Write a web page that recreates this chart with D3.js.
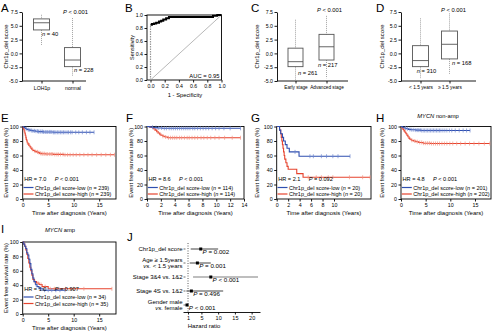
<!DOCTYPE html>
<html><head><meta charset="utf-8">
<script src="https://cdn.jsdelivr.net/npm/d3@7"></script>
<style>body{margin:0;background:#fff}</style>
</head><body>
<svg id="chart" width="500" height="332"></svg>
<script>
// ---------------- DATA ----------------
// Box plots (whisker low, Q1, median, Q3, whisker high)
const boxYTicks = [-5, -2.5, 0, 2.5, 5, 7.5];
const catsA = ["LOH1p", "normal"];
const statsA = [[1.5, 4.25, 5.55, 6.25, 7.0], [-4.1, -2.4, -1.2, 1.05, 6.4]];
const nA = [40, 228];
const catsC = ["Early stage", "Advanced stage"];
const statsC = [[-4.8, -2.4, -1.5, 0.95, 6.1], [-4.5, -1.2, 1.2, 3.45, 6.8]];
const nC = [261, 217];
const catsD = ["< 1.5 years", "\u2265 1.5 years"];
const statsD = [[-4.6, -2.4, -1.3, 1.4, 6.35], [-3.7, -1.0, 1.65, 4.05, 7.25]];
const nD = [310, 168];

// ROC
const rocFpr = [0, 0, 0, 0.02, 0.02, 0.05, 0.05, 0.08, 0.08, 0.12, 0.12, 0.15, 0.15, 0.18, 0.18, 0.22, 0.22, 0.26, 0.26, 0.88, 0.88, 0.94, 0.94, 1];
const rocTpr = [0, 0.82, 0.85, 0.85, 0.86, 0.86, 0.87, 0.87, 0.88, 0.88, 0.9, 0.9, 0.91, 0.91, 0.93, 0.93, 0.95, 0.95, 0.97, 0.97, 0.99, 0.99, 1, 1];
const rocTicks = [0, 0.2, 0.4, 0.6, 0.8, 1.0];
const aucLabel = "AUC = 0.95";

// Kaplan-Meier: events [time, survival%], end time, censor times
const kmYTicks = [0, 20, 40, 60, 80, 100];
const kmE_low = [[0.2, 99], [0.4, 98], [0.6, 97], [0.8, 96], [1.0, 95.5], [1.3, 95], [1.6, 94.5], [2.0, 94], [2.5, 93.5], [3.0, 93], [4.0, 92.5], [6.0, 92]];
const kmE_lowEnd = 14;
const kmE_lowCens = [0.7, 1.1, 1.4, 1.7, 2.0, 2.3, 2.6, 2.9, 3.1, 3.4, 3.6, 3.9, 4.1, 4.4, 4.6, 4.9, 5.2, 5.4, 5.7, 6.0, 6.2, 6.5, 6.8, 7.1, 7.4, 7.7, 8.0, 8.3, 8.7, 9.0, 9.4, 9.7, 10.4, 11.0, 11.7, 12.5, 13.2, 14.0];
const kmE_high = [[0.1, 98], [0.2, 96], [0.3, 94], [0.4, 91], [0.5, 88], [0.6, 85], [0.7, 82], [0.8, 80], [0.9, 78], [1.0, 76], [1.2, 74], [1.4, 72], [1.6, 70], [1.8, 68.5], [2.0, 67], [2.3, 66], [2.6, 65], [3.0, 64], [3.3, 63], [3.7, 62.5], [4.5, 62], [6.0, 61.5], [8.0, 61]];
const kmE_highEnd = 18;
const kmE_highCens = [0.3, 0.6, 0.9, 1.3, 1.9, 2.4, 2.9, 3.2, 3.5, 3.8, 4.0, 4.3, 4.6, 4.9, 5.3, 5.6, 5.9, 6.3, 6.7, 7.0, 7.4, 7.9, 8.3, 8.8, 9.3, 9.9, 10.5, 11.2, 12.0, 12.8, 13.6, 14.5, 15.4, 16.3, 17.2, 18.0];
const kmE_ticks = [0, 5, 10, 15];

const kmF_low = [[0.3, 99.5], [0.6, 99], [1.0, 98.5], [1.5, 98], [2.2, 97.5]];
const kmF_lowEnd = 13.5;
const kmF_lowCens = [0.8, 1.3, 1.7, 2.1, 2.5, 2.8, 3.2, 3.5, 3.8, 4.1, 4.4, 4.7, 5.0, 5.3, 5.6, 5.9, 6.2, 6.6, 6.9, 7.3, 7.7, 8.1, 8.5, 8.9, 9.4, 9.9, 10.4, 11.1, 12.0, 13.5];
const kmF_high = [[0.4, 99], [0.8, 98], [1.0, 96.5], [1.2, 95], [1.4, 93], [1.6, 91], [1.8, 89.5], [2.0, 88], [2.3, 86.5], [2.6, 85.5], [3.0, 84.5]];
const kmF_highEnd = 13.5;
const kmF_highCens = [1.1, 1.5, 1.9, 2.3, 2.7, 3.1, 3.4, 3.7, 4.0, 4.3, 4.7, 5.0, 5.4, 5.8, 6.1, 6.5, 6.9, 7.3, 7.8, 8.2, 8.7, 9.2, 9.8, 10.4, 11.2, 12.3, 13.5];
const kmF_ticks = [0, 2, 4, 6, 8, 10, 12, 14];

const kmG_low = [[0.5, 95], [0.7, 90], [1.0, 85], [1.2, 80], [1.5, 75], [1.8, 70], [2.2, 65], [3.9, 59]];
const kmG_lowEnd = 12.8;
const kmG_lowCens = [3.2, 5.8, 6.4, 7.8, 8.7, 9.8, 10.7, 12.8];
const kmG_high = [[0.5, 95], [0.7, 90], [0.8, 85], [0.9, 80], [1.0, 75], [1.1, 70], [1.2, 65], [1.3, 60], [1.4, 55], [1.6, 50], [1.8, 45], [2.0, 41], [3.5, 35], [4.6, 30]];
const kmG_highEnd = 16.3;
const kmG_highCens = [5.5, 6.9, 7.8, 9.0, 9.8, 12.7, 15.0, 16.3];
const kmG_ticks = [0, 2, 4, 6, 8, 10];

const kmH_low = [[0.3, 99], [0.6, 98], [1.0, 97], [1.5, 96], [2.0, 95.5], [3.0, 95], [4.0, 94.5]];
const kmH_lowEnd = 14;
const kmH_lowCens = [0.9, 1.3, 1.8, 2.2, 2.6, 3.0, 3.3, 3.6, 3.9, 4.2, 4.5, 4.8, 5.1, 5.4, 5.7, 6.0, 6.3, 6.6, 6.9, 7.2, 7.5, 7.8, 8.1, 8.5, 8.9, 9.3, 9.8, 10.3, 11.0, 11.8, 12.6, 13.3, 14.0];
const kmH_high = [[0.2, 98], [0.4, 96], [0.6, 94], [0.8, 92], [1.0, 90], [1.2, 88], [1.4, 86], [1.6, 84], [1.8, 82.5], [2.1, 81], [2.5, 80], [3.0, 79], [3.6, 78], [4.5, 77], [6.0, 76.5]];
const kmH_highEnd = 18;
const kmH_highCens = [1.5, 2.2, 2.8, 3.3, 3.8, 4.2, 4.6, 5.0, 5.4, 5.8, 6.2, 6.6, 7.0, 7.4, 7.8, 8.3, 8.8, 9.3, 9.9, 10.5, 11.3, 12.1, 13.0, 13.9, 14.8, 15.8, 16.9, 18.0];

const kmI_low = [[0.2, 97], [0.4, 94], [0.6, 91], [0.8, 85], [1.0, 82], [1.2, 76], [1.4, 70], [1.6, 62], [1.8, 56], [2.0, 50], [2.2, 45], [2.5, 41], [2.8, 38], [3.2, 35], [4.0, 33]];
const kmI_lowEnd = 8.3;
const kmI_lowCens = [2.6, 3.6, 4.3, 5.0, 5.7, 6.5, 7.3, 8.3];
const kmI_high = [[0.2, 97], [0.4, 94], [0.6, 89], [0.8, 83], [1.0, 77], [1.2, 71], [1.4, 65], [1.6, 60], [1.8, 54], [2.0, 48], [2.3, 45], [2.7, 43], [3.2, 41], [3.8, 38], [5.0, 35]];
const kmI_highEnd = 17.5;
const kmI_highCens = [1.5, 2.4, 3.0, 3.6, 4.4, 5.4, 6.2, 7.1, 8.4, 10.0, 12.0, 17.5];

// Forest plot (J)
const forestLabels = [["Chr1p_del score"], ["Age \u2265 1.5years", "vs. < 1.5 years"], ["Stage 3&4 vs. 1&2"], ["Stage 4S vs. 1&2"], ["Gender male", "vs. female"]];
const forestHR = [4.8, 3.8, 7.8, 2.0, 0.7];
const forestLo = [1.8, 1.5, 2.5, 0.5, 0.3];
const forestHi = [10.0, 7.8, 21.9, 11.5, 1.1];
const forestP = ["= 0.002", "= 0.001", "< 0.001", "= 0.496", "< 0.001"];
const forestTicks = [1, 5, 10, 15, 20];

// ---------------- DRAWING ----------------
const FONT = '"Liberation Sans", Arial, Helvetica, sans-serif';
const svg = d3.select("#chart").attr("font-family", FONT);
const BLUE = "#2f4fb0", BLUE_C = "#6f86d0", RED = "#e6432e", RED_C = "#f3907f";

function rich(g, x, y, parts, size, anchor) {
  const t = g.append("text").attr("x", x).attr("y", y).attr("font-size", size)
    .attr("text-anchor", anchor || "start").attr("fill", "#000");
  parts.forEach(p => t.append("tspan").attr("font-style", p[1] ? "italic" : "normal").text(p[0]));
  return t;
}
function styleAxis(a, size) {
  a.attr("font-family", FONT).attr("font-size", size);
  a.selectAll("text").attr("fill", "#000");
  a.selectAll("line,path").attr("stroke", "#000").attr("stroke-width", 0.9);
}
function letter(t, x, y) {
  svg.append("text").attr("x", x).attr("y", y).attr("font-size", 11.5).text(t);
}
function vtitle(g, x, cy, s, size) {
  g.append("text").attr("transform", `translate(${x},${cy}) rotate(-90)`)
    .attr("text-anchor", "middle").attr("dy", "0.35em").attr("font-size", size).text(s);
}

// ---- Box panels ----
function boxPanel(L, cats, stats, ns) {
  const g = svg.append("g");
  const y = d3.scaleLinear().domain([-5, 7.5]).range([L.yB, L.yT]);
  const x = d3.scalePoint().domain(cats).range(L.xr).padding(0.5);
  const ya = g.append("g").attr("transform", `translate(${L.ax},0)`)
    .call(d3.axisLeft(y).tickValues(boxYTicks).tickFormat(d => d.toFixed(1)).tickSize(2.5).tickSizeOuter(0).tickPadding(1.5));
  styleAxis(ya, 5.2);
  const xa = g.append("g").attr("transform", `translate(0,${L.yB})`)
    .call(d3.axisBottom(x).tickSize(2.5).tickSizeOuter(0).tickPadding(2.5));
  xa.select(".domain").remove();
  styleAxis(xa, L.catSize);
  g.append("line").attr("x1", L.ax).attr("x2", L.axEnd).attr("y1", L.yB).attr("y2", L.yB)
    .attr("stroke", "#000").attr("stroke-width", 0.9);
  stats.forEach((s, i) => {
    const cx = x(cats[i]), w = L.bw;
    const [lo, q1, med, q3, hi] = s;
    [[hi, q3], [q1, lo]].forEach(seg => g.append("line").attr("x1", cx).attr("x2", cx)
      .attr("y1", y(seg[0])).attr("y2", y(seg[1])).attr("stroke", "#999").attr("stroke-width", 0.9)
      .attr("stroke-dasharray", "1,1"));
    g.append("rect").attr("x", cx - w / 2).attr("y", y(q3)).attr("width", w).attr("height", y(q1) - y(q3))
      .attr("fill", "none").attr("stroke", "#555").attr("stroke-width", 0.9);
    g.append("line").attr("x1", cx - w / 2).attr("x2", cx + w / 2).attr("y1", y(med)).attr("y2", y(med))
      .attr("stroke", "#555").attr("stroke-width", 0.9);
    rich(g, cx + L.nOff[i][0], y(q1) + L.nOff[i][1], [["n", true], [" = " + ns[i], false]], 5.8);
  });
  rich(g, L.pX, L.pY, [["P", true], [" < 0.001", false]], 5.8);
  vtitle(g, L.titleX, (L.yT + L.yB) / 2, "Chr1p_del score", 6);
}

letter("A", 1, 12);
boxPanel({ax: 22, axEnd: 86, yT: 12, yB: 81, xr: [26, 88], bw: 16, titleX: 6, pX: 63, pY: 14, catSize: 5.2,
  nOff: [[0.5, 6.2], [1.5, 5.8]]}, catsA, statsA, nA);
letter("C", 251, 12);
boxPanel({ax: 277, axEnd: 348, yT: 12, yB: 81, xr: [280, 342], bw: 15, titleX: 257, pX: 317, pY: 12, catSize: 4.7,
  nOff: [[2.5, 8], [-8.5, 7]]}, catsC, statsC, nC);
letter("D", 376, 12);
boxPanel({ax: 401, axEnd: 476, yT: 12, yB: 81, xr: [406, 464], bw: 16, titleX: 382, pX: 441, pY: 12, catSize: 4.8,
  nOff: [[-3.8, 6], [2.5, 6]]}, catsD, statsD, nD);

// ---- ROC (B) ----
(function () {
  letter("B", 125, 12);
  const g = svg.append("g");
  const x = d3.scaleLinear().domain([0, 1]).range([150.5, 221.5]);
  const y = d3.scaleLinear().domain([0, 1]).range([80, 15]);
  g.append("rect").attr("x", 147).attr("y", 15).attr("width", 221.5 - 147).attr("height", 65)
    .attr("fill", "none").attr("stroke", "#000").attr("stroke-width", 0.9);
  const ya = g.append("g").attr("transform", "translate(147,0)")
    .call(d3.axisLeft(y).tickValues(rocTicks).tickFormat(d3.format(".1f")).tickSize(2.5).tickSizeOuter(0).tickPadding(1.5));
  ya.select(".domain").remove(); styleAxis(ya, 5.2);
  const xa = g.append("g").attr("transform", "translate(0,80)")
    .call(d3.axisBottom(x).tickValues(rocTicks).tickFormat(d3.format(".1f")).tickSize(2.5).tickSizeOuter(0).tickPadding(1.5));
  xa.select(".domain").remove(); styleAxis(xa, 5.2);
  g.append("line").attr("x1", x(0)).attr("y1", y(0)).attr("x2", x(1)).attr("y2", y(1))
    .attr("stroke", "#999").attr("stroke-width", 0.7);
  const pts = rocFpr.map((f, i) => [f, rocTpr[i]]);
  const split = rocTpr.findIndex(v => v >= 0.84);
  const line = d3.line().x(d => x(d[0])).y(d => y(d[1]));
  g.append("path").attr("d", line(pts.slice(0, split + 1))).attr("fill", "none")
    .attr("stroke", "#999").attr("stroke-width", 1.2).attr("stroke-dasharray", "1.5,1");
  g.append("path").attr("d", line(pts.slice(split))).attr("fill", "none")
    .attr("stroke", "#000").attr("stroke-width", 2);
  g.append("text").attr("x", 219.5).attr("y", 77.5).attr("text-anchor", "end").attr("font-size", 5.8).text(aucLabel);
  vtitle(g, 132, 47.5, "Sensitivity", 5.5);
  g.append("text").attr("x", 185).attr("y", 96.5).attr("text-anchor", "middle").attr("font-size", 5.8).text("1 - Specificity");
})();

// ---- Kaplan-Meier panels ----
function survAt(events, t) {
  let s = 100;
  events.forEach(e => { if (e[0] <= t) s = e[1]; });
  return s;
}
function kmPanel(L, low, high, xTicks, hr, pTxt, nLow, nHigh) {
  const g = svg.append("g");
  const x = d3.scaleLinear().domain([0, L.xMax]).range([L.x0, L.x1]);
  const y = d3.scaleLinear().domain([0, 100]).range([L.y0, L.y100]);
  g.append("rect").attr("x", L.x0).attr("y", L.y100).attr("width", L.x1 - L.x0).attr("height", L.y0 - L.y100)
    .attr("fill", "none").attr("stroke", "#000").attr("stroke-width", 0.9);
  const ya = g.append("g").attr("transform", `translate(${L.x0},0)`)
    .call(d3.axisLeft(y).tickValues(kmYTicks).tickSize(2.5).tickSizeOuter(0).tickPadding(1.5));
  ya.select(".domain").remove(); styleAxis(ya, 5.3);
  const xa = g.append("g").attr("transform", `translate(0,${L.y0})`)
    .call(d3.axisBottom(x).tickValues(xTicks).tickSize(2.5).tickSizeOuter(0).tickPadding(1.5));
  xa.select(".domain").remove(); styleAxis(xa, 5.3);
  const line = d3.line().x(d => x(d[0])).y(d => y(d[1])).curve(d3.curveStepAfter);
  const curves = [[high, RED, RED_C], [low, BLUE, BLUE_C]];
  curves.forEach(([c, col, ccol]) => {
    const pts = [[0, 100]].concat(c.ev, [[c.end, c.ev[c.ev.length - 1][1]]]);
    g.append("path").attr("d", line(pts)).attr("fill", "none").attr("stroke", col).attr("stroke-width", 1.1);
    c.cens.forEach(t => {
      const yy = y(survAt(c.ev, t));
      g.append("line").attr("x1", x(t)).attr("x2", x(t)).attr("y1", yy - 2).attr("y2", yy + 2)
        .attr("stroke", ccol).attr("stroke-width", 0.7);
    });
  });
  // legend
  rich(g, L.x0 + 1.5, L.hrY, [["HR = " + hr, false]], 5.6);
  rich(g, L.x0 + 32, L.hrY, [["P", true], [" " + pTxt, false]], 5.6);
  [[nLow, "low", BLUE, L.r1], [nHigh, "high", RED, L.r2]].forEach(([n, lab, col, ry]) => {
    g.append("line").attr("x1", L.x0 + 0.8).attr("x2", L.x0 + 10.8).attr("y1", ry).attr("y2", ry)
      .attr("stroke", col).attr("stroke-width", 1.2);
    rich(g, L.x0 + 12.3, ry + 2, [["Chr1p_del score-" + lab + " (", false], ["n", true], [" = " + n + ")", false]], 5.5);
  });
  vtitle(g, L.titleX, (L.y0 + L.y100) / 2, "Event free survival rate (%)", 5.8);
  g.append("text").attr("x", (L.x0 + L.x1) / 2).attr("y", L.xtY).attr("text-anchor", "middle")
    .attr("font-size", 6).text("Time after diagnosis (Years)");
  if (L.title) {
    rich(g, L.titleCx, L.titleY, [["MYCN", true], [" " + L.title, false]], 5.8, "middle");
  }
}

letter("E", 1, 122);
kmPanel({x0: 22.7, x1: 116, y100: 126.5, y0: 199, xMax: 18.3, titleX: 5.5, hrY: 181, r1: 187.5, r2: 194, xtY: 215},
  {ev: kmE_low, end: kmE_lowEnd, cens: kmE_lowCens}, {ev: kmE_high, end: kmE_highEnd, cens: kmE_highCens},
  kmE_ticks, "7.0", "<  0.001", 239, 239);
letter("F", 126, 122);
kmPanel({x0: 147, x1: 244, y100: 126.5, y0: 199, xMax: 14, titleX: 131, hrY: 181, r1: 187.5, r2: 194, xtY: 215},
  {ev: kmF_low, end: kmF_lowEnd, cens: kmF_lowCens}, {ev: kmF_high, end: kmF_highEnd, cens: kmF_highCens},
  kmF_ticks, "8.6", "<  0.001", 114, 114);
letter("G", 251, 122);
kmPanel({x0: 276.7, x1: 371, y100: 126.5, y0: 199, xMax: 16.46, titleX: 257, hrY: 181, r1: 187.5, r2: 194, xtY: 215},
  {ev: kmG_low, end: kmG_lowEnd, cens: kmG_lowCens}, {ev: kmG_high, end: kmG_highEnd, cens: kmG_highCens},
  kmG_ticks, "2.1", "= 0.092", 20, 20);
letter("H", 376, 122);
kmPanel({x0: 401, x1: 491, y100: 126.5, y0: 199, xMax: 18.25, titleX: 382, hrY: 181, r1: 187.5, r2: 194, xtY: 215,
  title: "non-amp", titleCx: 438, titleY: 118},
  {ev: kmH_low, end: kmH_lowEnd, cens: kmH_lowCens}, {ev: kmH_high, end: kmH_highEnd, cens: kmH_highCens},
  kmE_ticks, "4.8", "< 0.001", 201, 202);
letter("I", 1, 233);
kmPanel({x0: 22.7, x1: 116, y100: 242, y0: 314, xMax: 18.3, titleX: 5.5, hrY: 291, r1: 297, r2: 303.5, xtY: 329.5,
  title: "amp", titleCx: 60, titleY: 232},
  {ev: kmI_low, end: kmI_lowEnd, cens: kmI_lowCens}, {ev: kmI_high, end: kmI_highEnd, cens: kmI_highCens},
  kmE_ticks, "1.0", "= 0.907", 34, 35);

// ---- Forest plot (J) ----
(function () {
  letter("J", 127, 241);
  const g = svg.append("g");
  const x = d3.scaleLinear().domain([-0.5, 22.5]).range([183, 260]);
  const y = d3.scalePoint().domain(d3.range(forestHR.length)).range([249, 305]);
  g.append("line").attr("x1", x(1)).attr("x2", x(1)).attr("y1", 243).attr("y2", 312)
    .attr("stroke", "#333").attr("stroke-width", 0.8).attr("stroke-dasharray", "1,1.5");
  const xa = g.append("g").attr("transform", "translate(0,312)")
    .call(d3.axisBottom(x).tickValues(forestTicks).tickSize(2.5).tickSizeOuter(0).tickPadding(1.5));
  styleAxis(xa, 5.5);
  g.append("text").attr("x", 204).attr("y", 328).attr("text-anchor", "middle").attr("font-size", 6).text("Hazard ratio");
  forestHR.forEach((h, i) => {
    const yy = y(i);
    const lines = forestLabels[i];
    lines.forEach((s, k) => {
      const ly = yy + 2 + (k - (lines.length - 1) / 2) * 6.5;
      const t = g.append("text").attr("x", 182.5).attr("y", ly).attr("text-anchor", "end").attr("font-size", 6);
      if (s.startsWith("vs.")) {
        t.append("tspan").attr("font-style", "italic").text("vs.");
        t.append("tspan").text(s.slice(3));
      } else t.text(s);
    });
    g.append("line").attr("x1", 183.5).attr("x2", 185.5).attr("y1", yy).attr("y2", yy).attr("stroke", "#333").attr("stroke-width", 0.7);
    const grey = i === 2;
    g.append("line").attr("x1", x(forestLo[i])).attr("x2", x(forestHi[i])).attr("y1", yy).attr("y2", yy)
      .attr("stroke", grey ? "#a8a8a8" : "#444").attr("stroke-width", grey ? 1.6 : 1);
    g.append("rect").attr("x", x(h) - 1.5).attr("y", yy - 1.5).attr("width", 3).attr("height", 3).attr("fill", "#000");
    rich(g, x(h) + 1.8, yy + 5, [["P", true], [" " + forestP[i], false]], 6.2);
  });
})();
</script>
</body></html>
